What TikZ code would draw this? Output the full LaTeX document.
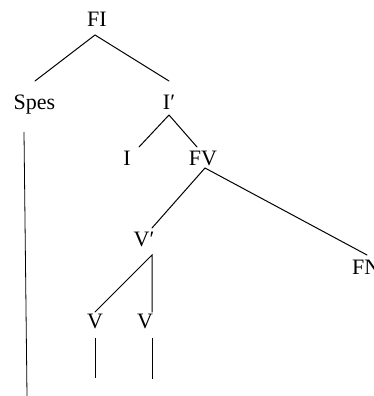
\documentclass[tikz,border=0pt]{standalone}
\usepackage{fontspec}
\setmainfont{Liberation Serif}
\usetikzlibrary{calc}
\begin{document}
\begin{tikzpicture}[x=1pt,y=-1pt,
  lab/.style={inner sep=0pt,anchor=base,font=\fontsize{22}{26}\selectfont},
  edge/.style={line width=1pt,line cap=round},
  stem/.style={line width=0.8pt}]
\useasboundingbox (0,0) rectangle (374,396);
\clip (0,0) rectangle (374,396);
\node[lab] (FI) at (97,27) {FI};
\node[lab] (Spes) at (34.5,109) {Spes};
\node[lab] (Ib) at (169,109) {I′};
\node[lab] (I) at (127,165) {I};
\node[lab] (FV) at (203,165) {FV};
\node[lab] (Vb) at (144,246) {V′};
\node[lab,anchor=base west] (FN) at (352,274) {FN};
\node[lab] (V1) at (95,328) {V};
\node[lab] (V2) at (145,328) {V};
\coordinate (SpesEnd) at (27,396);
\coordinate (V1End) at (95,378);
\coordinate (V2End) at (152,379);
\draw[edge] ($(Spes.base)+(0.5,-28)$) -- ($(FI.base)+(-2,8)$) -- ($(Ib.base)+(0,-28)$);
\draw[edge] ($(I.base)+(12,-18)$) -- ($(Ib.base)+(0,6)$) -- ($(FV.base)+(-6,-18)$);
\draw[edge] ($(Vb.base)+(8,-18)$) -- ($(FV.base)+(2,3)$) -- ($(FN.base west)+(15,-19)$);
\draw[edge] ($(V1.base)+(0,-16)$) -- ($(Vb.base)+(8,9)$) -- ($(V2.base)+(7,-16)$);
\draw[stem] ($(Spes.base)+(-10.5,23)$) -- (SpesEnd);
\draw[stem] ($(V1.base)+(0,10)$) -- (V1End);
\draw[stem] ($(V2.base)+(7,10)$) -- (V2End);
\end{tikzpicture}
\end{document}
